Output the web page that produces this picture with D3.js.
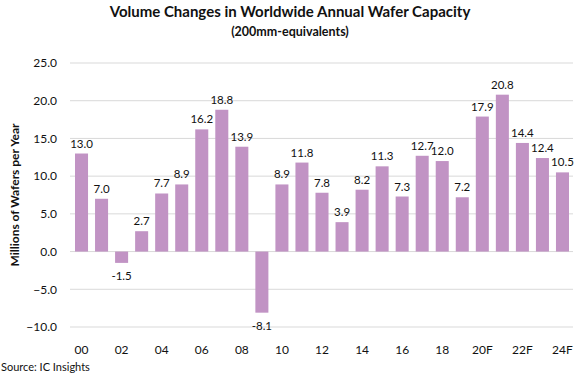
<!DOCTYPE html>
<html>
<head>
<meta charset="utf-8">
<script src="https://cdn.jsdelivr.net/npm/d3@7"></script>
<style>
  body { margin: 0; background: #fff; }
  text { font-family: Lato, "Open Sans", sans-serif; fill: #111; }
</style>
</head>
<body>
<div id="chart"></div>
<script>
var years = ["00","01","02","03","04","05","06","07","08","09","10","11","12","13","14","15","16","17","18","19","20F","21F","22F","23F","24F"];
var values = [13.0, 7.0, -1.5, 2.7, 7.7, 8.9, 16.2, 18.8, 13.9, -8.1, 8.9, 11.8, 7.8, 3.9, 8.2, 11.3, 7.3, 12.7, 12.0, 7.2, 17.9, 20.8, 14.4, 12.4, 10.5];
var yTicks = [-10, -5, 0, 5, 10, 15, 20, 25];
var xLabels = ["00","02","04","06","08","10","12","14","16","18","20F","22F","24F"];

var data = years.map((y, i) => ({ year: y, value: values[i] }));

var svg = d3.select("#chart").append("svg")
    .attr("width", 575)
    .attr("height", 375);

var x = d3.scaleBand()
    .domain(years)
    .range([71, 573])
    .paddingInner(0.35)
    .paddingOuter(0.2);

var y = d3.scaleLinear()
    .domain([-10, 25])
    .range([327, 63]);

// gridlines
svg.append("g")
    .selectAll("line")
    .data(yTicks)
    .enter()
    .append("line")
    .attr("x1", 70)
    .attr("x2", 573)
    .attr("y1", d => y(d))
    .attr("y2", d => y(d))
    .attr("stroke", "#d9d9d9")
    .attr("stroke-width", 1);

// y axis labels
var yAxis = d3.axisLeft(y)
    .tickValues(yTicks)
    .tickFormat(d3.format(".1f"))
    .tickSize(0)
    .tickPadding(0);
svg.append("g")
    .attr("transform", "translate(57,0)")
    .call(yAxis)
    .call(g => g.select(".domain").remove())
    .selectAll("text")
    .style("font-size", "12px")
    .style("font-family", "Lato, 'Open Sans', sans-serif")
    .attr("fill", "#222");

// bars
svg.append("g")
    .selectAll("rect")
    .data(data)
    .enter()
    .append("rect")
    .attr("x", d => x(d.year))
    .attr("y", d => y(Math.max(0, d.value)))
    .attr("width", x.bandwidth())
    .attr("height", d => Math.abs(y(d.value) - y(0)))
    .attr("fill", "#c193c4");

// value labels
svg.append("g")
    .selectAll("text")
    .data(data)
    .enter()
    .append("text")
    .attr("x", d => x(d.year) + x.bandwidth() / 2)
    .attr("y", d => d.value >= 0 ? y(d.value) - 6 : y(d.value) + 17)
    .style("text-anchor", "middle")
    .style("font-size", "11.5px")
    .text(d => d.value.toFixed(1));

// x axis labels
var xAxis = d3.axisBottom(x)
    .tickValues(xLabels)
    .tickSize(0)
    .tickPadding(0);
svg.append("g")
    .attr("transform", "translate(0,345)")
    .call(xAxis)
    .call(g => g.select(".domain").remove())
    .selectAll("text")
    .style("font-size", "12px")
    .style("font-family", "Lato, 'Open Sans', sans-serif")
    .attr("fill", "#222");

// titles
svg.append("text")
    .attr("x", 290)
    .attr("y", 17)
    .style("text-anchor", "middle")
    .style("font-size", "15px")
    .style("font-weight", "bold")
    .text("Volume Changes in Worldwide Annual Wafer Capacity");

svg.append("text")
    .attr("x", 290)
    .attr("y", 36)
    .style("text-anchor", "middle")
    .style("font-size", "12.5px")
    .style("font-weight", "bold")
    .text("(200mm-equivalents)");

svg.append("text")
    .attr("transform", "rotate(-90)")
    .attr("x", -195)
    .attr("y", 19)
    .style("text-anchor", "middle")
    .style("font-size", "12px")
    .style("font-weight", "bold")
    .text("Millions of Wafers per Year");

svg.append("text")
    .attr("x", 1)
    .attr("y", 371)
    .style("font-size", "11px")
    .attr("fill", "#333")
    .text("Source:  IC Insights");
</script>
</body>
</html>
